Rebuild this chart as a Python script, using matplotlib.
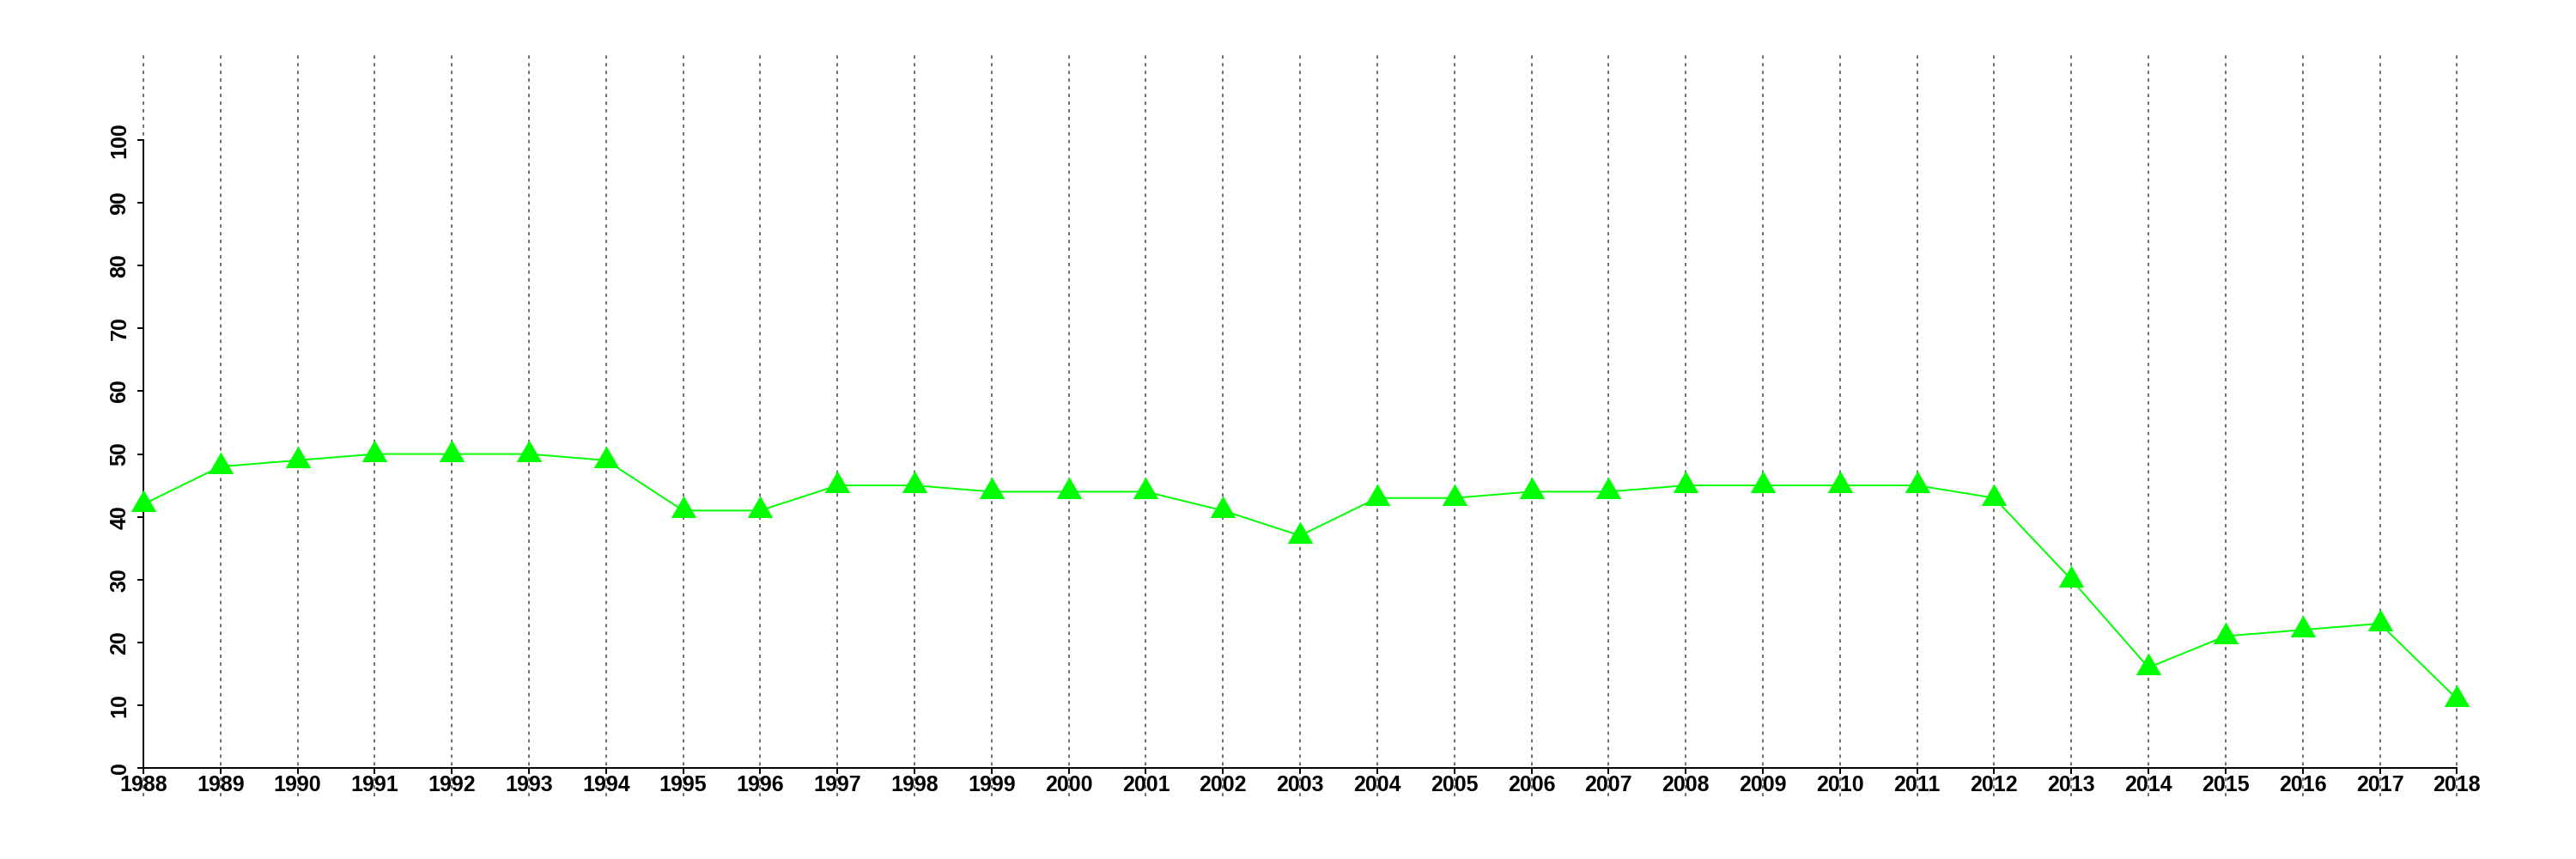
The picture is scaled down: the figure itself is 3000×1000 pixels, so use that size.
import matplotlib
matplotlib.use("Agg")
import matplotlib.pyplot as plt
import numpy as np

# data
years = list(range(1988, 2019))
values = [42, 48, 49, 50, 50, 50, 49, 41, 41, 45, 45, 44, 44, 44, 41, 37,
          43, 43, 44, 44, 45, 45, 45, 45, 43, 30, 16, 21, 22, 23, 11]
y_ticks = [0, 10, 20, 30, 40, 50, 60, 70, 80, 90, 100]

plt.rcParams['font.family'] = ['Liberation Sans', 'DejaVu Sans']

fig = plt.figure(figsize=(30, 10), dpi=100)
ax = fig.add_axes([0.0197, 0.073, 0.970, 0.867])

# vertical dotted guide lines at every year
for yr in years:
    ax.axvline(yr, color='#6e6e6e', lw=1.4, linestyle=(0, (2.0, 2.6)), zorder=1)

# equilateral triangle centred on its centroid (like R pch 17)
tri = [(0, 0.577), (-0.5, -0.289), (0.5, -0.289)]
ax.plot(years, values, color='#00ff00', lw=1.4, marker=tri, markersize=24.5,
        markeredgewidth=0, markerfacecolor='#00ff00', zorder=3, clip_on=False)

ax.set_xlim(1986.8, 2019.2)
ax.set_ylim(-4.51, 114.1)

ax.spines['top'].set_visible(False)
ax.spines['right'].set_visible(False)
ax.spines['left'].set_position(('data', 1988))
ax.spines['bottom'].set_position(('data', 0))
ax.spines['left'].set_bounds(0, 100)
ax.spines['bottom'].set_bounds(1988, 2018)
for s in ('left', 'bottom'):
    ax.spines[s].set_linewidth(1.4)

ax.set_xticks(years)
ax.set_xticklabels([str(y) for y in years], fontsize=18, fontweight='bold')
ax.set_yticks(y_ticks)
ax.set_yticklabels([str(v) for v in y_ticks], fontsize=18, fontweight='bold',
                   rotation=90, va='center')
ax.tick_params(axis='both', length=5, width=1.4)
ax.tick_params(axis='x', pad=1.0)
ax.tick_params(axis='y', pad=6)

fig.savefig('out.png', dpi=100)
